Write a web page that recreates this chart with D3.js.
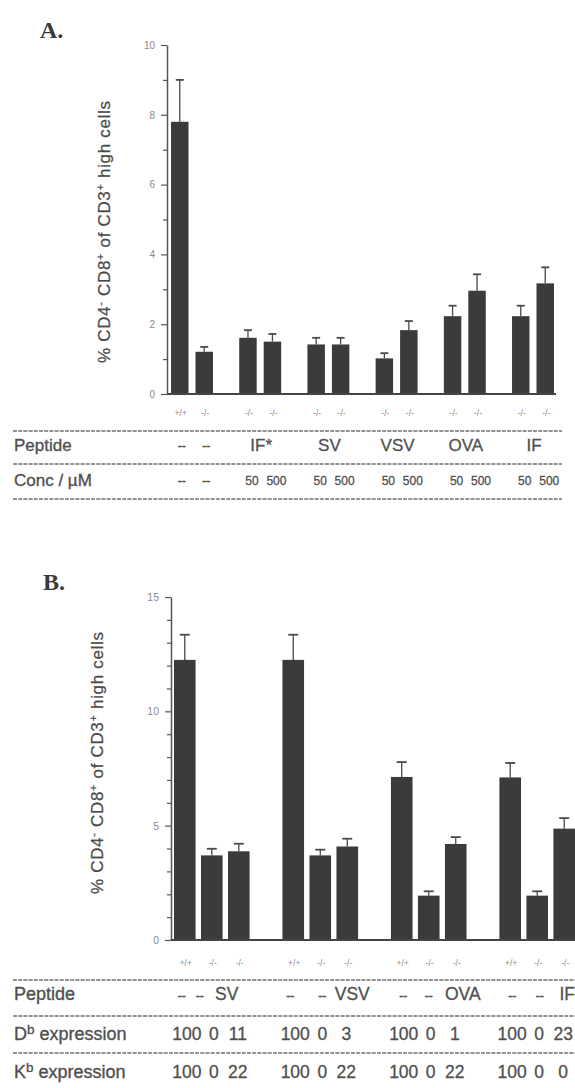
<!DOCTYPE html>
<html>
<head>
<meta charset="utf-8">
<script src="https://cdn.jsdelivr.net/npm/d3@7"></script>
<style>
  html, body { margin: 0; padding: 0; background: #fff; }
  svg { display: block; }
  text { font-family: "Liberation Sans", Arial, Helvetica, sans-serif; }
</style>
</head>
<body>
<svg id="fig" width="575" height="1088"></svg>
<script>
// ---------- Panel A data ----------
const groupsA = ["none", "IF*", "SV", "VSV", "OVA", "IF"];
const peptideA = ["--", "IF*", "SV", "VSV", "OVA", "IF"];
const genotypeA = ["+/+", "-/-", "-/-", "-/-", "-/-", "-/-", "-/-", "-/-", "-/-", "-/-", "-/-", "-/-"];
const concA = ["--", "--", "50", "500", "50", "500", "50", "500", "50", "500", "50", "500"];
const valuesA = [7.80, 1.21, 1.61, 1.50, 1.42, 1.42, 1.02, 1.83, 2.23, 2.96, 2.23, 3.17];
const errorsA = [1.20, 0.14, 0.22, 0.22, 0.19, 0.19, 0.15, 0.26, 0.30, 0.47, 0.30, 0.46];
const ticksA = [0, 2, 4, 6, 8, 10];
const minorTicksA = [1, 3, 5, 7, 9];

// ---------- Panel B data ----------
const groupsB = ["SV", "VSV", "OVA", "IF"];
const genotypeB = ["+/+", "-/-", "-/-", "+/+", "-/-", "-/-", "+/+", "-/-", "-/-", "+/+", "-/-", "-/-"];
const peptideB = ["--", "--", "SV", "--", "--", "VSV", "--", "--", "OVA", "--", "--", "IF"];
const dbExpr = ["100", "0", "11", "100", "0", "3", "100", "0", "1", "100", "0", "23"];
const kbExpr = ["100", "0", "22", "100", "0", "22", "100", "0", "22", "100", "0", "0"];
const valuesB = [12.25, 3.70, 3.88, 12.25, 3.70, 4.09, 7.13, 1.94, 4.20, 7.11, 1.94, 4.87];
const errorsB = [1.10, 0.29, 0.33, 1.10, 0.25, 0.34, 0.65, 0.19, 0.30, 0.63, 0.19, 0.46];
const ticksB = [0, 5, 10, 15];
const minorTicksB = [1, 2, 3, 4, 6, 7, 8, 9, 11, 12, 13, 14];

const svg = d3.select("#fig");
const BAR = "#3b3b3b";
const AXIS = "#555";
const INK = "#505050";

function drawPanel(cfg) {
  const g = svg.append("g");
  const nPer = cfg.values.length / cfg.groups.length;
  const x0 = d3.scaleBand().domain(cfg.groups).range(cfg.xRange)
    .paddingInner(cfg.padInner).paddingOuter(cfg.padOuter);
  const x1 = d3.scaleBand().domain(d3.range(nPer)).range([0, x0.bandwidth()])
    .paddingInner(cfg.barPad).paddingOuter(cfg.barOuter);
  const y = d3.scaleLinear().domain(cfg.yDomain).range(cfg.yRange);
  const rows = cfg.values.map((v, i) => ({
    v, e: cfg.errors[i], i,
    grp: cfg.groups[Math.floor(i / nPer)], k: i % nPer
  }));
  const xl = d => x0(d.grp) + x1(d.k);
  const xc = d => xl(d) + x1.bandwidth() / 2;

  // bars
  g.selectAll("rect.bar").data(rows).join("rect")
    .attr("class", "bar")
    .attr("x", xl).attr("width", x1.bandwidth())
    .attr("y", d => y(d.v)).attr("height", d => y(0) - y(d.v))
    .attr("fill", BAR);

  // upper error bars
  g.selectAll("line.err").data(rows).join("line")
    .attr("x1", xc).attr("x2", xc)
    .attr("y1", d => y(d.v)).attr("y2", d => y(d.v + d.e))
    .attr("stroke", "#4a4a4a").attr("stroke-width", 1.3);
  g.selectAll("line.cap").data(rows).join("line")
    .attr("x1", d => xc(d) - cfg.cap / 2).attr("x2", d => xc(d) + cfg.cap / 2)
    .attr("y1", d => y(d.v + d.e)).attr("y2", d => y(d.v + d.e))
    .attr("stroke", "#4a4a4a").attr("stroke-width", 1.8);

  // y axis: minor then labelled ticks
  const ax = cfg.xRange[0];
  const minor = g.append("g").attr("transform", `translate(${ax},0)`)
    .call(d3.axisLeft(y).tickValues(cfg.minor).tickSize(4).tickSizeOuter(0).tickFormat(""));
  minor.select(".domain").remove();
  const major = g.append("g").attr("transform", `translate(${ax},0)`)
    .call(d3.axisLeft(y).tickValues(cfg.ticks).tickSize(6).tickSizeOuter(0).tickPadding(6));
  [minor, major].forEach(a => {
    a.selectAll("line").attr("stroke", AXIS).attr("stroke-width", 1.2);
    a.select(".domain").attr("stroke", AXIS).attr("stroke-width", 1.5);
  });
  major.selectAll("text").attr("fill", "#8a8a8a").style("font-size", cfg.tickFont + "px")
    .style("font-family", "'Liberation Sans', Arial, sans-serif");

  // baseline
  g.append("line")
    .attr("x1", ax).attr("x2", cfg.baseEnd)
    .attr("y1", y(0)).attr("y2", y(0))
    .attr("stroke", "#444").attr("stroke-width", 2);

  // axis title
  const t = g.append("text")
    .attr("transform", `translate(${cfg.titleX},${cfg.titleY}) rotate(-90)`)
    .attr("text-anchor", "middle")
    .attr("fill", "#4a4a4a")
    .attr("stroke", "#4a4a4a").attr("stroke-width", 0.25)
    .style("font-size", "17px")
    .attr("textLength", 262).attr("lengthAdjust", "spacing");
  t.append("tspan").text("% CD4");
  t.append("tspan").text("-").attr("dy", -6).style("font-size", "11px");
  t.append("tspan").text(" CD8").attr("dy", 6);
  t.append("tspan").text("+").attr("dy", -6).style("font-size", "11px");
  t.append("tspan").text(" of CD3").attr("dy", 6);
  t.append("tspan").text("+").attr("dy", -6).style("font-size", "11px");
  t.append("tspan").text(" high cells").attr("dy", 6);

  // panel letter
  g.append("text").attr("x", cfg.letterX).attr("y", cfg.letterY)
    .text(cfg.letter)
    .style("font-family", "'Liberation Serif', 'Times New Roman', serif")
    .style("font-weight", "bold").style("font-size", "24px").attr("fill", "#3a3a3a");

  // genotype labels beneath each bar
  g.selectAll("text.geno").data(rows).join("text")
    .attr("x", d => xc(d) + 1).attr("y", cfg.genoY)
    .attr("text-anchor", "middle")
    .style("font-size", "8.5px").attr("fill", "#888")
    .text(d => cfg.genotype[d.i]);

  // dashed separators
  cfg.lines.forEach(ly => {
    g.append("line").attr("x1", 13).attr("x2", cfg.lineEnd)
      .attr("y1", ly).attr("y2", ly)
      .attr("stroke", "#707070").attr("stroke-width", 1.4)
      .attr("stroke-dasharray", "4,1.2");
  });

  return { g, rows, xc, x0 };
}

function rowName(g, x, y, size, main, sup, rest) {
  const t = g.append("text").attr("x", x).attr("y", y)
    .style("font-size", size + "px").attr("fill", INK)
    .attr("stroke", INK).attr("stroke-width", 0.35);
  t.append("tspan").text(main);
  if (sup) {
    t.append("tspan").text(sup).attr("dy", -6).style("font-size", (size * 0.75) + "px");
    t.append("tspan").text(rest).attr("dy", 6);
  }
  return t;
}

function cellText(g, x, y, txt, size) {
  const dash = txt === "--";
  g.append("text").attr("x", x).attr("y", y)
    .attr("text-anchor", "middle")
    .style("font-size", (dash ? 12 : size) + "px")
    .attr("fill", INK).attr("stroke", INK).attr("stroke-width", dash ? 0.5 : 0.3)
    .text(txt);
}

// ---------- Panel A ----------
const A = drawPanel({
  groups: groupsA, values: valuesA, errors: errorsA, genotype: genotypeA,
  xRange: [167, 558], padInner: 0.385, padOuter: 0.059, barPad: 0.286, barOuter: 0,
  yDomain: [0, 10], yRange: [394, 45], ticks: ticksA, minor: minorTicksA,
  baseEnd: 556, cap: 8, tickFont: 10,
  titleX: 110, titleY: 232, letter: "A.", letterX: 40, letterY: 38,
  genoY: 416, lines: [431, 464, 499], lineEnd: 562
});
rowName(A.g, 14, 451, 17, "Peptide");
rowName(A.g, 14, 486, 17, "Conc / \u00B5M");
groupsA.forEach((grp, gi) => {
  const label = peptideA[gi];
  if (label === "--") {
    A.rows.filter(d => d.grp === grp).forEach(d => cellText(A.g, A.xc(d) + 2, 450, "--", 17));
  } else {
    cellText(A.g, A.x0(grp) + A.x0.bandwidth() / 2 + 1, 451, label, 17);
  }
});
A.rows.forEach(d => cellText(A.g, A.xc(d) + (concA[d.i] === "--" ? 2 : 4), 485, concA[d.i], 12));

// ---------- Panel B ----------
const B = drawPanel({
  groups: groupsB, values: valuesB, errors: errorsB, genotype: genotypeB,
  xRange: [171, 578], padInner: 0.29, padOuter: 0.021, barPad: 0.2, barOuter: 0.026,
  yDomain: [0, 15], yRange: [940, 597], ticks: ticksB, minor: minorTicksB,
  baseEnd: 575, cap: 10, tickFont: 10.5,
  titleX: 103, titleY: 763, letter: "B.", letterX: 43, letterY: 590,
  genoY: 966, lines: [980, 1016, 1053], lineEnd: 575
});
rowName(B.g, 14, 1000, 18, "Peptide");
rowName(B.g, 14, 1040, 18, "D", "b", " expression");
rowName(B.g, 14, 1078, 18, "K", "b", " expression");
// horizontal nudges for the peptide row (per group, per column) and the expression rows
const peptideNudge = [[-3, -12, -12], [-3, 2, 5], [1.5, 0, 7], [2, 2.5, 3]];
const colNudge = [2, 2, -1];
B.rows.forEach(d => {
  const gi = groupsB.indexOf(d.grp);
  cellText(B.g, B.xc(d) + peptideNudge[gi][d.k], 1000, peptideB[d.i], 17.5);
  cellText(B.g, B.xc(d) + colNudge[d.k], 1040, dbExpr[d.i], 17.5);
  cellText(B.g, B.xc(d) + colNudge[d.k], 1078, kbExpr[d.i], 17.5);
});
</script>
</body>
</html>
